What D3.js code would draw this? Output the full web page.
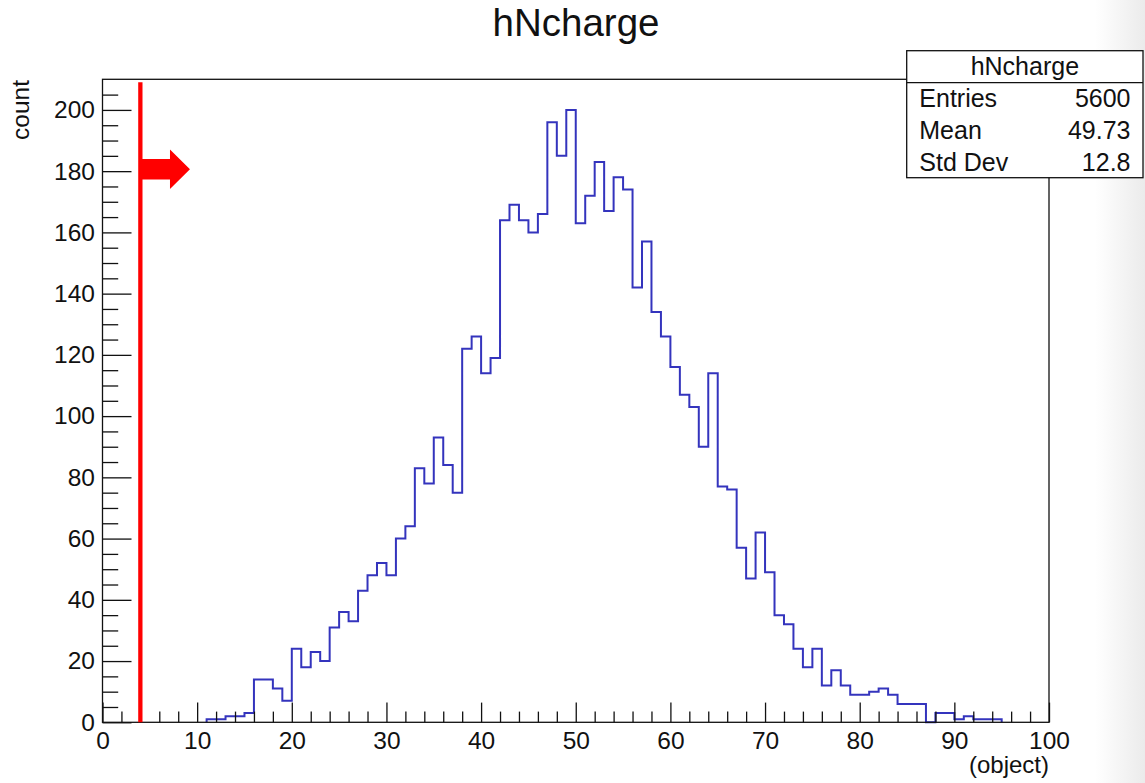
<!DOCTYPE html>
<html>
  <head>
    <title>hNcharge</title>
    <style>
      body { margin: 0; background: #fff; }
      svg text { font-family: "Liberation Sans", Arial, Helvetica, sans-serif; fill: #111; }
    </style>
  </head>
  <body>
    <svg width="1145" height="783"></svg>
    <script src="https://d3js.org/d3.v7.min.js"></script>
    <script>

    // histogram contents, one value per unit-wide bin starting at bin 0
    var binEdges = d3.range(0, 101);
    var counts = [0,0,0,0,0,0,0,0,0,0,
                  0,1,1,2,2,3,14,14,11,7,
                  24,18,23,20,31,36,33,43,48,52,
                  48,60,64,83,78,93,84,75,122,126,
                  114,119,164,169,164,160,166,196,185,200,
                  163,172,183,167,178,174,142,157,134,126,
                  116,107,103,90,114,77,76,57,47,62,
                  49,35,32,24,18,24,12,17,12,9,
                  9,10,11,9,6,6,6,0,3,3,
                  1,2,1,1,1,0,0,0,0,0];

    var xMajorTicks = d3.range(0, 101, 10);
    var yMajorTicks = d3.range(0, 201, 20);

    var statLabels = ["Entries", "Mean", "Std Dev"];
    var statValues = ["5600", "49.73", "12.8"];
    var histName = "hNcharge";

    var cutX = 4;           // red cut line position
    var arrowY = 180.6;     // arrow height (count units)
    var arrowHeadX = 7.13, arrowTipX = 9.24;

    var svg = d3.select("svg"),
        margin = {top: 79.3, right: 96, bottom: 60.7, left: 102.5},
        width = +svg.attr("width") - margin.left - margin.right,
        height = +svg.attr("height") - margin.top - margin.bottom;

    // soft page shadow on the far right
    var grad = svg.append("defs").append("linearGradient").attr("id", "edge");
    grad.append("stop").attr("offset", "0%").attr("stop-color", "#fff");
    grad.append("stop").attr("offset", "100%").attr("stop-color", "#ebebeb");
    svg.append("rect").attr("x", 1095).attr("y", 0).attr("width", 50).attr("height", 783)
        .attr("fill", "url(#edge)");

    var g = svg.append("g")
        .attr("transform", "translate(" + margin.left + "," + margin.top + ")");

    var x = d3.scaleLinear().domain([0, 100]).range([0, width]);
    var y = d3.scaleLinear().domain([0, 210]).range([height, 0]);

    // histogram outline, from first to last filled bin
    var first = counts.findIndex(function(c) { return c > 0; });
    var last = counts.length - 1 - counts.slice().reverse().findIndex(function(c) { return c > 0; });
    var pts = [[binEdges[first], 0]];
    for (var i = first; i <= last; i++) {
      pts.push([binEdges[i], counts[i]]);
      pts.push([binEdges[i + 1], counts[i]]);
    }
    pts.push([binEdges[last + 1], 0]);

    g.append("path")
        .attr("fill", "none")
        .attr("stroke", "#3434bd")
        .attr("stroke-width", 2)
        .attr("d", d3.line().x(function(d) { return x(d[0]); }).y(function(d) { return y(d[1]); })(pts));

    // axes (ticks pointing into the frame, ROOT style)
    var xMinor = d3.range(0, 101, 2).filter(function(v) { return v % 10 !== 0; });
    var yMinor = d3.range(0, 210, 5).filter(function(v) { return v % 20 !== 0; });

    g.append("g").attr("transform", "translate(0," + height + ")")
        .call(d3.axisBottom(x).tickValues(xMajorTicks).tickSize(-19.7).tickPadding(9).tickFormat(d3.format("d")));
    g.append("g").attr("transform", "translate(0," + height + ")")
        .call(d3.axisBottom(x).tickValues(xMinor).tickSize(-10.7).tickFormat(""));
    g.append("g")
        .call(d3.axisLeft(y).tickValues(yMajorTicks).tickSize(-29).tickPadding(7.5).tickFormat(d3.format("d")));
    g.append("g")
        .call(d3.axisLeft(y).tickValues(yMinor).tickSize(-15.7).tickFormat(""));

    g.selectAll(".domain").remove();
    g.selectAll(".tick line").attr("stroke", "#111").attr("stroke-width", 1.3);
    g.selectAll(".tick text").style("font-size", "24.5px").attr("fill", "#111");

    // frame
    g.append("rect")
        .attr("width", width).attr("height", height)
        .attr("fill", "none").attr("stroke", "#111").attr("stroke-width", 1.3);

    // cut line and arrow
    g.append("line")
        .attr("x1", x(cutX)).attr("x2", x(cutX))
        .attr("y1", y(0)).attr("y2", y(209))
        .attr("stroke", "#f00").attr("stroke-width", 4.3);

    var ay = y(arrowY);
    g.append("path")
        .attr("fill", "#f00")
        .attr("d", "M" + x(cutX) + "," + (ay - 10.3) +
                   "L" + x(arrowHeadX) + "," + (ay - 10.3) +
                   "L" + x(arrowHeadX) + "," + (ay - 19.7) +
                   "L" + x(arrowTipX) + "," + ay +
                   "L" + x(arrowHeadX) + "," + (ay + 19.7) +
                   "L" + x(arrowHeadX) + "," + (ay + 10.3) +
                   "L" + x(cutX) + "," + (ay + 10.3) + "Z");

    // axis titles and main title
    svg.append("text")
        .attr("x", margin.left + width).attr("y", 773)
        .attr("text-anchor", "end")
        .style("font-size", "24px")
        .text("(object)");

    svg.append("text")
        .attr("transform", "translate(28.5,80) rotate(-90)")
        .attr("text-anchor", "end")
        .style("font-size", "24.5px")
        .text("count");

    svg.append("text")
        .attr("x", 576).attr("y", 36)
        .attr("text-anchor", "middle")
        .style("font-size", "38.5px")
        .text(histName);

    // stats box
    var box = {x: 906.7, y: 50.7, w: 236.3, h: 127, head: 32};
    var sb = svg.append("g");
    sb.append("rect")
        .attr("x", box.x).attr("y", box.y).attr("width", box.w).attr("height", box.h)
        .attr("fill", "#fff").attr("stroke", "#111").attr("stroke-width", 1.3);
    sb.append("line")
        .attr("x1", box.x).attr("x2", box.x + box.w)
        .attr("y1", box.y + box.head).attr("y2", box.y + box.head)
        .attr("stroke", "#111").attr("stroke-width", 1.3);
    sb.append("text")
        .attr("x", box.x + box.w / 2).attr("y", 74.5)
        .attr("text-anchor", "middle")
        .style("font-size", "25px")
        .text(histName);

    var rowH = (box.h - box.head) / statLabels.length;
    statLabels.forEach(function(lab, i) {
      var by = box.y + box.head + rowH * i + rowH / 2 + 8.8;
      sb.append("text").attr("x", 919.3).attr("y", by)
          .style("font-size", "25px").text(lab);
      sb.append("text").attr("x", 1130.5).attr("y", by)
          .attr("text-anchor", "end")
          .style("font-size", "25px").text(statValues[i]);
    });

    </script>
  </body>
</html>
